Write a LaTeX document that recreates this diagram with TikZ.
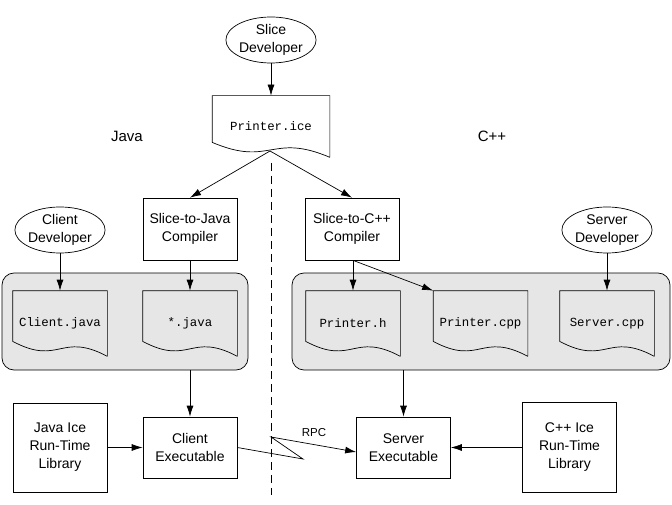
\documentclass[tikz,border=0pt]{standalone}
\usepackage{fontspec}
\setmainfont{Liberation Sans}
\setmonofont{Liberation Mono}
\usetikzlibrary{shapes.geometric,positioning,arrows.meta}
\definecolor{boxgrey}{RGB}{230,230,230}
\tikzset{
  person/.style={ellipse, draw, minimum width=88pt, minimum height=46pt, inner sep=0pt, align=center},
  box/.style={rectangle, draw, minimum width=94pt, minimum height=62pt, inner sep=0pt, align=center},
  doc/.style={rectangle, minimum width=94pt, minimum height=65pt, inner sep=0pt, font=\ttfamily\fontsize{12.4}{15}\selectfont},
  group/.style={rectangle, rounded corners=12pt, draw, fill=boxgrey, inner sep=0pt}
}
\begin{document}
\begin{tikzpicture}[x=1pt,y=-1pt,line width=0.7pt,on grid,>={Latex[length=11pt,width=7pt]},font=\fontsize{14}{18}\selectfont]
  \useasboundingbox (0,0) rectangle (672,505);
  % grey groups
  \node[group, minimum width=246pt, minimum height=97pt] (javagrp) at (125,321.5) {};
  \node[group, minimum width=378pt, minimum height=97pt] (cppgrp) at (481,321.5) {};
  % developers and compilers
  \node[person] (slicedev) at (271,40) {Slice\\Developer};
  \node[doc, minimum width=117pt, minimum height=61pt] (ice) [below=86.5pt of slicedev] {Printer.ice};
  \node[font=\fontsize{15}{18}\selectfont] (javalbl) at (127,136) {Java};
  \node[font=\fontsize{15}{18}\selectfont] (cpplbl) at (492,136) {C++};
  \node[box] (s2j) at (190,229) {Slice-to-Java\\Compiler};
  \node[box] (s2c) at (352,229) {Slice-to-C++\\Compiler};
  \node[person] (clientdev) at (60,230) {Client\\Developer};
  \node[person] (serverdev) at (607,230) {Server\\Developer};
  % source files
  \node[doc] (cjava) [below=93.5pt of clientdev] {Client.java};
  \node[doc] (sjava) [below=94.5pt of s2j] {*.java};
  \node[doc] (ph) at (353,323.5) {Printer.h};
  \node[doc] (pcpp) at (480.5,323.5) {Printer.cpp};
  \node[doc] (scpp) [below=93.5pt of serverdev] {Server.cpp};
  \foreach \d/\w in {ice/58.5,cjava/47,sjava/47,ph/47,pcpp/47,scpp/47}
    \draw (\d.south east) -- (\d.north east) -- (\d.north west) -- ([yshift=15pt]\d.south west)
      .. controls +(\w,25) and +(-\w,-25) .. (\d.south east);
  % executables and libraries
  \node[box, minimum height=61pt] (clientexe) [below=124pt of sjava] {Client\\Executable};
  \node[box, minimum height=61pt] (serverexe) at (403.5,447.5) {Server\\Executable};
  \node[box, minimum height=89pt] (javalib) [below=124pt of cjava] {Java Ice\\Run-Time\\Library};
  \node[box, minimum height=90pt] (cpplib) at (569.5,447.5) {C++ Ice\\Run-Time\\Library};
  % client/server split
  \coordinate (splittop) at (271,163);
  \coordinate (splitbot) at (271,495);
  \draw[dash pattern=on 8pt off 5pt] (splittop) -- (splitbot);
  % arrows
  \coordinate (icewave) at (270,151);
  \draw[->] (slicedev) -- (ice);
  \draw[->] (icewave) -- (s2j.north);
  \draw[->] (icewave) -- (s2c.north);
  \draw[->] (clientdev) -- (cjava.north);
  \draw[->] (s2j) -- (sjava.north);
  \draw[->] (s2c.south -| ph) -- (ph.north);
  \draw[->] (s2c.south -| ph) -- (pcpp.north west);
  \draw[->] (serverdev) -- (scpp.north);
  \draw[->] (javagrp.south -| clientexe) -- (clientexe);
  \draw[->] (cppgrp.south -| serverexe) -- (serverexe);
  \draw[->] (javalib) -- (clientexe);
  \draw[->] (cpplib) -- (serverexe);
  % RPC
  \coordinate (rpc1) at (303,459);
  \coordinate (rpc2) at (271,437);
  \draw[->] (clientexe.east) -- (rpc1) -- (rpc2) -- ([yshift=-4.5pt]serverexe.west);
  \node[font=\fontsize{11.5}{14}\selectfont] (rpc) at (314,433) {RPC};
\end{tikzpicture}
\end{document}
